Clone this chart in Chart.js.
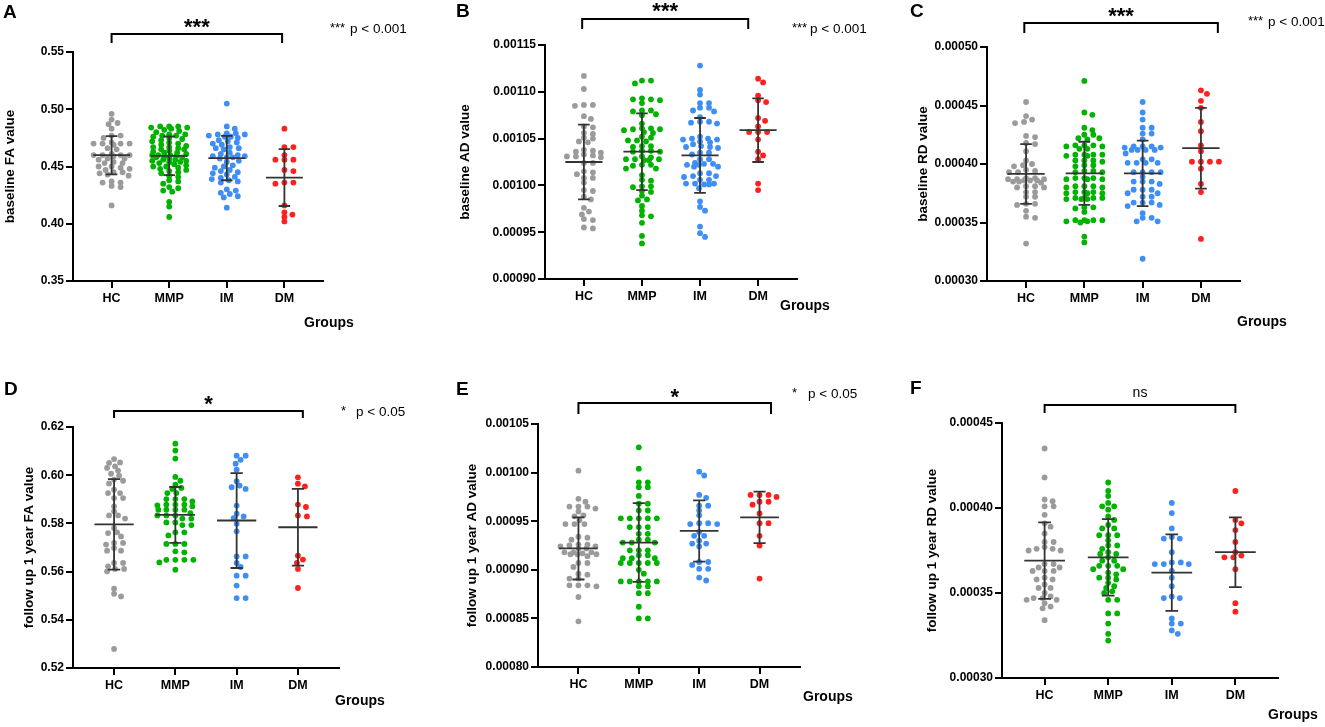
<!DOCTYPE html>
<html>
<head>
<meta charset="utf-8">
<script src="https://cdn.jsdelivr.net/npm/chart.js@4.4.1/dist/chart.umd.min.js"></script>
<style>
  html, body { margin: 0; padding: 0; background: #fff; }
  body { width: 1325px; height: 727px; position: relative; overflow: hidden; }
  canvas { position: absolute; }
</style>
</head>
<body>
<canvas id="pA" width="440" height="340" style="left:0;top:0"></canvas>
<canvas id="pB" width="440" height="340" style="left:440px;top:0"></canvas>
<canvas id="pC" width="445" height="340" style="left:880px;top:0"></canvas>
<canvas id="pD" width="440" height="357" style="left:0;top:370px"></canvas>
<canvas id="pE" width="440" height="357" style="left:440px;top:370px"></canvas>
<canvas id="pF" width="445" height="357" style="left:880px;top:370px"></canvas>
<script>
const groups = ['HC', 'MMP', 'IM', 'DM'];

// baseline FA
const faBaseHC = [0.496, 0.491, 0.488, 0.487, 0.483, 0.477, 0.477, 0.475, 0.471, 0.470, 0.470, 0.470, 0.470, 0.469, 0.466, 0.465, 0.461, 0.460, 0.460, 0.460, 0.460, 0.459, 0.457, 0.457, 0.456, 0.454, 0.453, 0.453, 0.450, 0.450, 0.449, 0.448, 0.447, 0.445, 0.445, 0.444, 0.443, 0.442, 0.437, 0.436, 0.436, 0.433, 0.432, 0.416];
const faBaseMMP = [0.485, 0.485, 0.485, 0.484, 0.484, 0.483, 0.482, 0.481, 0.480, 0.478, 0.478, 0.477, 0.477, 0.476, 0.475, 0.474, 0.473, 0.472, 0.471, 0.470, 0.469, 0.468, 0.467, 0.467, 0.466, 0.465, 0.465, 0.464, 0.463, 0.462, 0.462, 0.461, 0.460, 0.460, 0.460, 0.459, 0.459, 0.458, 0.458, 0.457, 0.456, 0.456, 0.455, 0.455, 0.454, 0.454, 0.453, 0.452, 0.451, 0.450, 0.450, 0.449, 0.448, 0.447, 0.446, 0.445, 0.444, 0.442, 0.441, 0.438, 0.437, 0.435, 0.432, 0.431, 0.429, 0.428, 0.419, 0.415, 0.406];
const faBaseIM = [0.505, 0.485, 0.483, 0.479, 0.479, 0.478, 0.478, 0.477, 0.476, 0.476, 0.475, 0.473, 0.472, 0.471, 0.470, 0.469, 0.467, 0.466, 0.466, 0.465, 0.462, 0.461, 0.460, 0.459, 0.459, 0.458, 0.458, 0.457, 0.455, 0.454, 0.451, 0.450, 0.449, 0.447, 0.446, 0.445, 0.444, 0.443, 0.441, 0.440, 0.439, 0.438, 0.437, 0.436, 0.430, 0.429, 0.427, 0.426, 0.424, 0.423, 0.414];
const faBaseDM = [0.483, 0.467, 0.467, 0.460, 0.456, 0.456, 0.456, 0.447, 0.446, 0.436, 0.436, 0.435, 0.416, 0.410, 0.408, 0.406, 0.402];
const faBaseMean = [0.4599, 0.4593, 0.4574, 0.4403];
const faBaseSD = [0.0167, 0.0169, 0.0194, 0.0248];
const faBaseTicks = [0.35, 0.40, 0.45, 0.50, 0.55];

// baseline AD
const adBaseHC = [0.001117, 0.001103, 0.001086, 0.001086, 0.001085, 0.001074, 0.001071, 0.001063, 0.001062, 0.001056, 0.001055, 0.001051, 0.001050, 0.001047, 0.001046, 0.001038, 0.001037, 0.001036, 0.001035, 0.001033, 0.001032, 0.001031, 0.001031, 0.001030, 0.001024, 0.001024, 0.001015, 0.001014, 0.001012, 0.001008, 0.001008, 0.001003, 0.000995, 0.000994, 0.000988, 0.000985, 0.000976, 0.000972, 0.000969, 0.000964, 0.000963, 0.000955, 0.000954];
const adBaseMMP = [0.001112, 0.001112, 0.001109, 0.001093, 0.001092, 0.001092, 0.001091, 0.001088, 0.001080, 0.001080, 0.001079, 0.001076, 0.001075, 0.001066, 0.001061, 0.001061, 0.001060, 0.001060, 0.001059, 0.001057, 0.001056, 0.001052, 0.001051, 0.001048, 0.001048, 0.001047, 0.001042, 0.001042, 0.001041, 0.001037, 0.001037, 0.001036, 0.001036, 0.001031, 0.001030, 0.001028, 0.001028, 0.001028, 0.001027, 0.001027, 0.001022, 0.001022, 0.001021, 0.001018, 0.001018, 0.001011, 0.001006, 0.001005, 0.000999, 0.000999, 0.000998, 0.000994, 0.000993, 0.000989, 0.000985, 0.000984, 0.000978, 0.000973, 0.000968, 0.000967, 0.000960, 0.000946, 0.000938];
const adBaseIM = [0.001128, 0.001102, 0.001097, 0.001088, 0.001088, 0.001083, 0.001083, 0.001080, 0.001079, 0.001073, 0.001068, 0.001068, 0.001067, 0.001066, 0.001052, 0.001050, 0.001050, 0.001049, 0.001049, 0.001047, 0.001046, 0.001044, 0.001042, 0.001041, 0.001041, 0.001040, 0.001035, 0.001035, 0.001033, 0.001028, 0.001028, 0.001024, 0.001023, 0.001023, 0.001022, 0.001022, 0.001020, 0.001020, 0.001013, 0.001013, 0.001010, 0.001010, 0.001009, 0.001006, 0.001006, 0.001002, 0.001002, 0.001002, 0.001001, 0.001001, 0.000997, 0.000983, 0.000977, 0.000973, 0.000956, 0.000949, 0.000945];
const adBaseDM = [0.001114, 0.001110, 0.001096, 0.001091, 0.001089, 0.001072, 0.001069, 0.001063, 0.001057, 0.001057, 0.001057, 0.001049, 0.001036, 0.001032, 0.001028, 0.001002, 0.000995];
const adBaseMean = [0.001025, 0.001036, 0.001032, 0.001059];
const adBaseSD = [0.000040, 0.000041, 0.000040, 0.000034];
const adBaseTicks = [0.00090, 0.00095, 0.00100, 0.00105, 0.00110, 0.00115];

// baseline RD
const rdBaseHC = [0.000453, 0.000441, 0.000438, 0.000436, 0.000435, 0.000424, 0.000423, 0.000418, 0.000417, 0.000411, 0.000403, 0.000400, 0.000399, 0.000398, 0.000395, 0.000394, 0.000393, 0.000393, 0.000388, 0.000388, 0.000387, 0.000387, 0.000387, 0.000386, 0.000386, 0.000386, 0.000385, 0.000385, 0.000384, 0.000381, 0.000381, 0.000380, 0.000380, 0.000376, 0.000376, 0.000372, 0.000372, 0.000366, 0.000366, 0.000365, 0.000360, 0.000355, 0.000354, 0.000332];
const rdBaseMMP = [0.000471, 0.000444, 0.000442, 0.000431, 0.000429, 0.000425, 0.000425, 0.000422, 0.000422, 0.000421, 0.000416, 0.000416, 0.000416, 0.000415, 0.000415, 0.000413, 0.000413, 0.000408, 0.000408, 0.000408, 0.000408, 0.000407, 0.000407, 0.000403, 0.000403, 0.000403, 0.000402, 0.000399, 0.000399, 0.000398, 0.000394, 0.000394, 0.000393, 0.000393, 0.000388, 0.000388, 0.000388, 0.000387, 0.000387, 0.000387, 0.000381, 0.000381, 0.000381, 0.000380, 0.000380, 0.000376, 0.000376, 0.000376, 0.000375, 0.000375, 0.000375, 0.000371, 0.000371, 0.000371, 0.000371, 0.000370, 0.000370, 0.000370, 0.000363, 0.000363, 0.000362, 0.000359, 0.000352, 0.000352, 0.000352, 0.000352, 0.000351, 0.000351, 0.000350, 0.000338, 0.000333];
const rdBaseIM = [0.000453, 0.000444, 0.000438, 0.000431, 0.000431, 0.000426, 0.000426, 0.000421, 0.000415, 0.000415, 0.000415, 0.000414, 0.000414, 0.000412, 0.000412, 0.000412, 0.000412, 0.000409, 0.000404, 0.000404, 0.000401, 0.000401, 0.000401, 0.000401, 0.000393, 0.000393, 0.000393, 0.000393, 0.000389, 0.000385, 0.000385, 0.000385, 0.000383, 0.000378, 0.000378, 0.000378, 0.000375, 0.000375, 0.000372, 0.000372, 0.000367, 0.000367, 0.000367, 0.000365, 0.000364, 0.000358, 0.000354, 0.000354, 0.000351, 0.000351, 0.000319];
const rdBaseDM = [0.000463, 0.000460, 0.000454, 0.000448, 0.000436, 0.000428, 0.000416, 0.000411, 0.000402, 0.000402, 0.000402, 0.000402, 0.000396, 0.000383, 0.000376, 0.000336];
const rdBaseMean = [0.0003915, 0.000392, 0.000392, 0.0004135];
const rdBaseSD = [0.0000255, 0.000027, 0.000028, 0.0000345];
const rdBaseTicks = [0.00030, 0.00035, 0.00040, 0.00045, 0.00050];

// follow up 1 year FA
const faFupHC = [0.6067, 0.6053, 0.6051, 0.6037, 0.6030, 0.6019, 0.6006, 0.5998, 0.5982, 0.5977, 0.5966, 0.5940, 0.5926, 0.5926, 0.5905, 0.5905, 0.5871, 0.5850, 0.5833, 0.5833, 0.5820, 0.5781, 0.5763, 0.5760, 0.5746, 0.5719, 0.5719, 0.5712, 0.5698, 0.5687, 0.5687, 0.5636, 0.5636, 0.5622, 0.5611, 0.5611, 0.5601, 0.5529, 0.5508, 0.5497, 0.5279];
const faFupMMP = [0.6131, 0.6102, 0.6069, 0.5993, 0.5977, 0.5961, 0.5947, 0.5943, 0.5926, 0.5926, 0.5901, 0.5901, 0.5901, 0.5891, 0.5878, 0.5878, 0.5875, 0.5871, 0.5878, 0.5857, 0.5857, 0.5857, 0.5857, 0.5843, 0.5833, 0.5833, 0.5833, 0.5820, 0.5820, 0.5804, 0.5804, 0.5793, 0.5793, 0.5763, 0.5763, 0.5750, 0.5715, 0.5715, 0.5715, 0.5684, 0.5680, 0.5649, 0.5649, 0.5649, 0.5649, 0.5638, 0.5608];
const faFupIM = [0.6081, 0.6081, 0.6064, 0.6048, 0.6023, 0.5975, 0.5957, 0.5950, 0.5943, 0.5874, 0.5840, 0.5829, 0.5822, 0.5799, 0.5767, 0.5663, 0.5663, 0.5636, 0.5619, 0.5583, 0.5583, 0.5542, 0.5490, 0.5490];
const faFupDM = [0.5991, 0.5965, 0.5954, 0.5878, 0.5868, 0.5833, 0.5829, 0.5666, 0.5650, 0.5636, 0.5611, 0.5532];
const faFupMean = [0.5796, 0.5835, 0.5812, 0.5784];
const faFupSD = [0.0188, 0.0116, 0.0197, 0.0159];
const faFupTicks = [0.52, 0.54, 0.56, 0.58, 0.60, 0.62];

// follow up 1 year AD
const adFupHC = [0.001002, 0.000973, 0.000970, 0.000965, 0.000965, 0.000963, 0.000965, 0.000960, 0.000956, 0.000955, 0.000951, 0.000947, 0.000947, 0.000947, 0.000934, 0.000933, 0.000931, 0.000926, 0.000926, 0.000925, 0.000924, 0.000924, 0.000922, 0.000922, 0.000918, 0.000918, 0.000918, 0.000917, 0.000916, 0.000916, 0.000916, 0.000914, 0.000907, 0.000907, 0.000903, 0.000896, 0.000895, 0.000891, 0.000891, 0.000884, 0.000884, 0.000884, 0.000883, 0.000872, 0.000847];
const adFupMMP = [0.001026, 0.001004, 0.000990, 0.000990, 0.000985, 0.000985, 0.000976, 0.000968, 0.000968, 0.000961, 0.000961, 0.000953, 0.000953, 0.000953, 0.000953, 0.000953, 0.000944, 0.000944, 0.000944, 0.000937, 0.000937, 0.000931, 0.000931, 0.000928, 0.000928, 0.000928, 0.000920, 0.000920, 0.000920, 0.000915, 0.000915, 0.000912, 0.000912, 0.000912, 0.000907, 0.000907, 0.000907, 0.000907, 0.000907, 0.000900, 0.000896, 0.000888, 0.000888, 0.000888, 0.000888, 0.000888, 0.000883, 0.000883, 0.000876, 0.000876, 0.000862, 0.000850, 0.000850];
const adFupIM = [0.001001, 0.000997, 0.000977, 0.000974, 0.000966, 0.000966, 0.000961, 0.000956, 0.000948, 0.000948, 0.000947, 0.000947, 0.000939, 0.000935, 0.000935, 0.000930, 0.000927, 0.000927, 0.000924, 0.000908, 0.000908, 0.000905, 0.000901, 0.000901, 0.000892, 0.000889];
const adFupDM = [0.000977, 0.000977, 0.000977, 0.000975, 0.000970, 0.000970, 0.000967, 0.000958, 0.000948, 0.000948, 0.000935, 0.000925, 0.000891];
const adFupMean = [0.000922, 0.000928, 0.000940, 0.000954];
const adFupSD = [0.000032, 0.0000405, 0.0000315, 0.0000265];
const adFupTicks = [0.00080, 0.00085, 0.00090, 0.00095, 0.00100, 0.00105];

// follow up 1 year RD
const rdFupHC = [0.000435, 0.000418, 0.000405, 0.000404, 0.000401, 0.000401, 0.000396, 0.000391, 0.000389, 0.000385, 0.000380, 0.000380, 0.000377, 0.000376, 0.000376, 0.000375, 0.000375, 0.000367, 0.000367, 0.000365, 0.000365, 0.000363, 0.000363, 0.000363, 0.000359, 0.000358, 0.000358, 0.000355, 0.000353, 0.000353, 0.000350, 0.000348, 0.000347, 0.000347, 0.000346, 0.000346, 0.000344, 0.000342, 0.000341, 0.000334];
const rdFupMMP = [0.000415, 0.000410, 0.000407, 0.000403, 0.000401, 0.000401, 0.000399, 0.000395, 0.000393, 0.000390, 0.000388, 0.000388, 0.000384, 0.000384, 0.000384, 0.000381, 0.000378, 0.000378, 0.000376, 0.000374, 0.000373, 0.000373, 0.000371, 0.000369, 0.000369, 0.000366, 0.000366, 0.000366, 0.000364, 0.000364, 0.000362, 0.000361, 0.000359, 0.000359, 0.000358, 0.000356, 0.000354, 0.000353, 0.000351, 0.000350, 0.000346, 0.000346, 0.000338, 0.000338, 0.000332, 0.000326, 0.000322];
const rdFupIM = [0.000403, 0.000397, 0.000388, 0.000383, 0.000382, 0.000382, 0.000374, 0.000368, 0.000368, 0.000367, 0.000367, 0.000367, 0.000363, 0.000359, 0.000354, 0.000347, 0.000347, 0.000348, 0.000335, 0.000332, 0.000332, 0.000326, 0.000328];
const rdFupDM = [0.000410, 0.000393, 0.000391, 0.000387, 0.000380, 0.000374, 0.000372, 0.000371, 0.000371, 0.000364, 0.000344, 0.000339];
const rdFupMean = [0.000369, 0.000371, 0.000362, 0.000374];
const rdFupSD = [0.0000225, 0.0000225, 0.0000225, 0.0000205];
const rdFupTicks = [0.00030, 0.00035, 0.00040, 0.00045];

const COLORS = ['#9b9b9b', '#00b300', '#3f8ef5', '#ff1f1f'];
const FONT = '"Liberation Sans", Arial, Helvetica, sans-serif';
const DOT_R = 2.9;
// room each dot keeps sideways / up-down (px); squeezed when a row gets too wide
const GAP_X = 8.5;
const GAP_Y = 4.5;
const MAX_OFF = 18;
const SQUEEZE = [1, 0.85, 0.7, 0.55, 0.4, 0.25];

// layout: canvas-relative chart area [left, top, right, bottom] and text spots
const PANELS = [
  {id: 'pA', letter: 'A', letterPos: [3, 13], yTitle: 'baseline FA value', yTitleX: 10,
   area: [73, 52, 323, 281], values: [faBaseHC, faBaseMMP, faBaseIM, faBaseDM],
   means: faBaseMean, sds: faBaseSD, ticks: faBaseTicks, decimals: 2,
   sig: '***', bracket: {from: 0, to: 2.96, top: 34, bottom: 43, labelY: 22},
   note: {stars: '***', starsX: 330, textX: 350, y: 29}, groupsPos: [304, 323]},
  {id: 'pB', letter: 'B', letterPos: [16, 12], yTitle: 'baseline AD value', yTitleX: 25,
   area: [105, 45, 357, 279], values: [adBaseHC, adBaseMMP, adBaseIM, adBaseDM],
   means: adBaseMean, sds: adBaseSD, ticks: adBaseTicks, decimals: 5,
   sig: '***', bracket: {from: -0.03, to: 2.83, top: 19, bottom: 29, labelY: 6},
   note: {stars: '***', starsX: 352, textX: 370, y: 29}, groupsPos: [340, 306]},
  {id: 'pC', letter: 'C', letterPos: [30, 12], yTitle: 'baseline RD value', yTitleX: 43,
   area: [107, 47, 360, 281], values: [rdBaseHC, rdBaseMMP, rdBaseIM, rdBaseDM],
   means: rdBaseMean, sds: rdBaseSD, ticks: rdBaseTicks, decimals: 5,
   sig: '***', bracket: {from: -0.03, to: 3.29, top: 23, bottom: 33, labelY: 11},
   note: {stars: '***', starsX: 368, textX: 388, y: 22}, groupsPos: [357, 322]},
  {id: 'pD', letter: 'D', letterPos: [4, 20], yTitle: 'follow up 1 year FA value', yTitleX: 29,
   area: [73, 57, 339, 298], values: [faFupHC, faFupMMP, faFupIM, faFupDM],
   means: faFupMean, sds: faFupSD, ticks: faFupTicks, decimals: 2,
   sig: '*', bracket: {from: 0, to: 3.08, top: 41, bottom: 48, labelY: 29},
   note: {stars: '*', starsX: 341, textX: 356, y: 42}, groupsPos: [335, 331]},
  {id: 'pE', letter: 'E', letterPos: [16, 20], yTitle: 'follow up 1 year AD value', yTitleX: 32,
   area: [98, 54, 360, 297], values: [adFupHC, adFupMMP, adFupIM, adFupDM],
   means: adFupMean, sds: adFupSD, ticks: adFupTicks, decimals: 5,
   sig: '*', bracket: {from: 0, to: 3.19, top: 33, bottom: 44, labelY: 22},
   note: {stars: '*', starsX: 352, textX: 368, y: 24}, groupsPos: [363, 327]},
  {id: 'pF', letter: 'F', letterPos: [30, 19], yTitle: 'follow up 1 year RD value', yTitleX: 52,
   area: [122, 53, 398, 308], values: [rdFupHC, rdFupMMP, rdFupIM, rdFupDM],
   means: rdFupMean, sds: rdFupSD, ticks: rdFupTicks, decimals: 5,
   sig: 'ns', bracket: {from: 0, to: 3.0, top: 35, bottom: 43, labelY: 23},
   note: null, groupsPos: [388, 345]},
];

// mean line plus SD whisker with caps, broken up by null points
function summaryPoints(i, m, s) {
  const w = 0.32, c = 0.1;
  return [
    {x: i - w, y: m}, {x: i + w, y: m}, {x: i, y: null},
    {x: i - c, y: m + s}, {x: i + c, y: m + s}, {x: i, y: null},
    {x: i, y: m + s}, {x: i, y: m - s}, {x: i, y: null},
    {x: i - c, y: m - s}, {x: i + c, y: m - s},
  ];
}

const decorPlugin = {
  id: 'decor',
  afterDraw(chart, args, p) {
    const {ctx, chartArea, scales: {x}} = chart;
    ctx.save();
    ctx.fillStyle = '#000';
    ctx.strokeStyle = '#000';

    ctx.textAlign = 'left';
    ctx.textBaseline = 'middle';
    ctx.font = `bold 19px ${FONT}`;
    ctx.fillText(p.letter, p.letterPos[0], p.letterPos[1]);

    ctx.save();
    ctx.translate(p.yTitleX, (chartArea.top + chartArea.bottom) / 2);
    ctx.rotate(-Math.PI / 2);
    ctx.textAlign = 'center';
    ctx.font = `bold 13.5px ${FONT}`;
    ctx.fillText(p.yTitle, 0, 0);
    ctx.restore();

    const b = p.bracket;
    const x1 = x.getPixelForValue(b.from);
    const x2 = x.getPixelForValue(b.to);
    ctx.lineWidth = 2;
    ctx.beginPath();
    ctx.moveTo(x1, b.bottom);
    ctx.lineTo(x1, b.top);
    ctx.lineTo(x2, b.top);
    ctx.lineTo(x2, b.bottom);
    ctx.stroke();

    ctx.textAlign = 'center';
    if (p.sig === 'ns') {
      ctx.font = `14px ${FONT}`;
      ctx.fillText(p.sig, (x1 + x2) / 2, b.labelY);
    } else {
      ctx.font = `bold 22px ${FONT}`;
      ctx.textBaseline = 'alphabetic';
      ctx.fillText(p.sig, (x1 + x2) / 2, b.labelY + 12);
    }

    if (p.note) {
      ctx.textAlign = 'left';
      ctx.textBaseline = 'alphabetic';
      ctx.font = `13px ${FONT}`;
      ctx.fillText(p.note.stars, p.note.starsX, p.note.y + 3);
      ctx.textBaseline = 'middle';
      ctx.font = `13.5px ${FONT}`;
      ctx.fillText('p < ' + (p.sig === '***' ? '0.001' : '0.05'), p.note.textX, p.note.y);
    }

    ctx.textAlign = 'left';
    ctx.textBaseline = 'middle';
    ctx.font = `bold 14px ${FONT}`;
    ctx.fillText('Groups', p.groupsPos[0], p.groupsPos[1]);
    ctx.restore();
  },
};

function findOffset(placed, cx, py, squeeze) {
  const gx = GAP_X * squeeze, gy = GAP_Y * squeeze;
  for (let k = 0; k <= 2 * MAX_OFF; k++) {
    const off = k % 2 ? (k + 1) / 2 : -k / 2;
    const ok = placed.every((q) => ((q.px - cx - off) / gx) ** 2 + ((q.py - py) / gy) ** 2 >= 1);
    if (ok) return off;
  }
  return null;
}

// spread the dots sideways so they do not pile up (beeswarm)
function placeSwarm(chart) {
  const {x, y} = chart.scales;
  chart.data.datasets.forEach((ds) => {
    if (ds.values === undefined) return;
    const cx = x.getPixelForValue(ds.group);
    const pts = ds.values
      .map((v) => ({v, py: y.getPixelForValue(v), px: cx}))
      .sort((a, b) => a.py - b.py);
    const placed = [];
    pts.forEach((pt) => {
      let off = null;
      for (const s of SQUEEZE) {
        off = findOffset(placed, cx, pt.py, s);
        if (off !== null) break;
      }
      pt.px = cx + (off || 0);
      placed.push(pt);
    });
    ds.data = pts.map((pt) => ({x: x.getValueForPixel(pt.px), y: pt.v}));
  });
  chart.update('none');
}

function axisStyle() {
  return {
    grid: {display: true, drawOnChartArea: false, drawTicks: true, tickLength: 7, color: '#000', lineWidth: 2},
    border: {display: true, color: '#000', width: 2},
  };
}

function setupPanel(p) {
  const canvas = document.getElementById(p.id);
  const [aL, aT, aR, aB] = p.area;
  const datasets = [];
  p.values.forEach((vals, i) => {
    datasets.push({
      data: summaryPoints(i, p.means[i], p.sds[i]),
      showLine: true, spanGaps: false, pointRadius: 0,
      borderColor: '#333', borderWidth: 1.8, order: 0,
    });
  });
  p.values.forEach((vals, i) => {
    datasets.push({
      values: vals, group: i,
      data: vals.map((v) => ({x: i, y: v})),
      pointRadius: DOT_R, pointBackgroundColor: COLORS[i], pointBorderWidth: 0,
      showLine: false, order: 1,
    });
  });

  const chart = new Chart(canvas.getContext('2d'), {
    type: 'scatter',
    data: {datasets},
    options: {
      responsive: false,
      animation: false,
      events: [],
      layout: {padding: {left: 0, top: aT, right: canvas.width - aR, bottom: 0}},
      plugins: {legend: {display: false}, tooltip: {enabled: false}, decor: p},
      scales: {
        x: {
          type: 'linear', min: -0.67, max: 3.67,
          afterFit: (s) => { s.height = canvas.height - aB; },
          afterBuildTicks: (s) => { s.ticks = groups.map((g, i) => ({value: i})); },
          ticks: {callback: (v) => groups[v], color: '#000', padding: 3, maxRotation: 0, autoSkip: false,
                  font: {family: FONT, size: 12.5, weight: 'bold'}},
          ...axisStyle(),
        },
        y: {
          type: 'linear', min: p.ticks[0], max: p.ticks[p.ticks.length - 1],
          afterFit: (s) => { s.width = aL; },
          afterBuildTicks: (s) => { s.ticks = p.ticks.map((v) => ({value: v})); },
          ticks: {callback: (v) => Number(v).toFixed(p.decimals), color: '#000', padding: 2,
                  font: {family: FONT, size: 12, weight: 'bold'}},
          ...axisStyle(),
        },
      },
    },
    plugins: [decorPlugin],
  });
  placeSwarm(chart);
}

PANELS.forEach(setupPanel);
</script>
</body>
</html>
